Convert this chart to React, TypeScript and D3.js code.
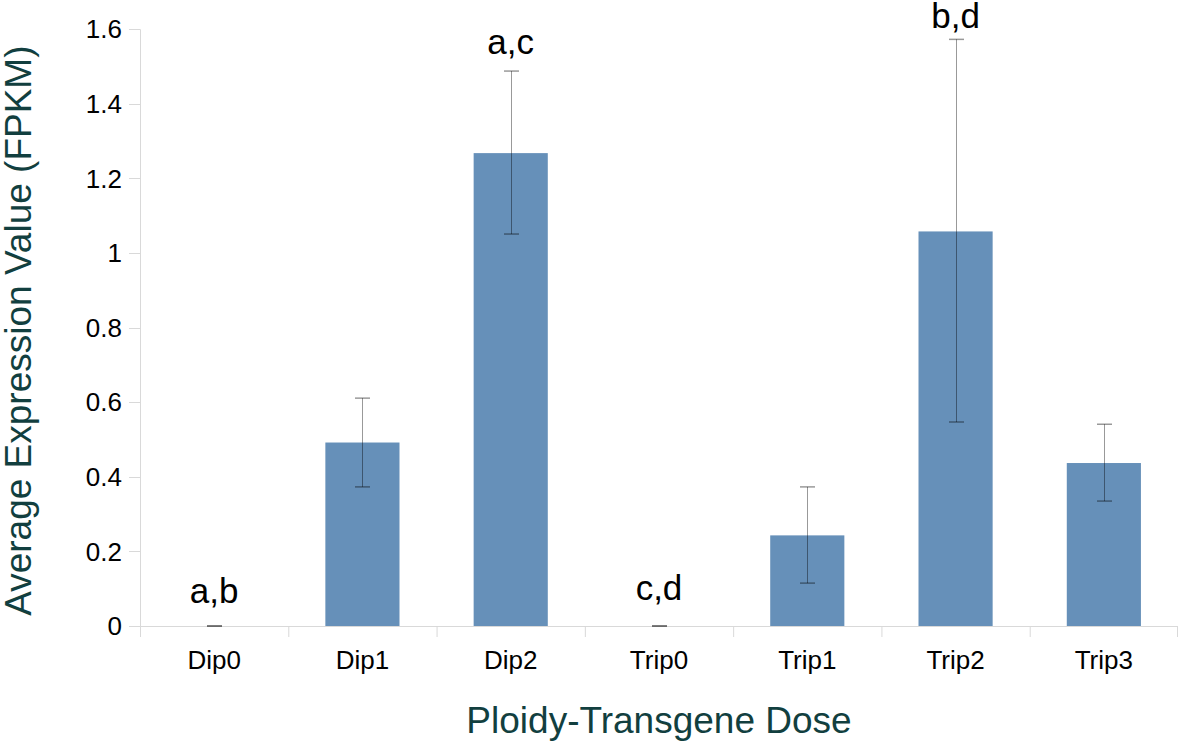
import React from "react";
import * as d3 from "d3";

const categories = ["Dip0", "Dip1", "Dip2", "Trip0", "Trip1", "Trip2", "Trip3"];
const means = [0, 0.492, 1.268, 0, 0.243, 1.058, 0.437];
const errUpper = [0, 0.611, 1.488, 0, 0.373, 1.573, 0.541];
const errLower = [0, 0.373, 1.051, 0, 0.115, 0.547, 0.335];
const sigLabels = ["a,b", "", "a,c", "c,d", "", "b,d", ""];
const sigLabelValues = [0.062, 0, 1.535, 0.07, 0, 1.603, 0];
const yTicks = [0, 0.2, 0.4, 0.6, 0.8, 1, 1.2, 1.4, 1.6];

const W = 1181;
const H = 745;
const left = 140;
const right = 1178;
const top = 29.3;
const bottom = 626;

export default function App() {
  const x = d3.scaleBand<string>().domain(categories).range([left, right]).paddingInner(0).paddingOuter(0);
  const y = d3.scaleLinear().domain([0, 1.6]).range([bottom, top]);
  const bw = x.bandwidth();
  const barW = bw * 0.5;
  const font = "'Liberation Sans', Arial, sans-serif";
  const titleColor = "#123f3f";
  const axisColor = "#d9d9d9";
  const capHalf = 7.5;

  return (
    <svg width={W} height={H} style={{ position: "absolute", left: 0, top: 0, display: "block" }} fontFamily={font}>
      <rect width={W} height={H} fill="#fff" />
      {/* y axis */}
      <line x1={left + 0.5} x2={left + 0.5} y1={y(1.6)} y2={bottom} stroke={axisColor} strokeWidth={1} />
      {yTicks.map((t) => (
        <g key={t}>
          <line x1={left - 11} x2={left} y1={Math.round(y(t)) + 0.5} y2={Math.round(y(t)) + 0.5} stroke={axisColor} />
          <text x={left - 18} y={y(t)} dy="0.35em" textAnchor="end" fontSize={26} fill="#000">
            {d3.format("~g")(t)}
          </text>
        </g>
      ))}
      {/* x axis */}
      <line x1={left} x2={right} y1={bottom + 0.5} y2={bottom + 0.5} stroke={axisColor} />
      {categories.map((c) => (
        <line key={"t" + c} x1={x(c)! + 0.5} x2={x(c)! + 0.5} y1={bottom} y2={bottom + 11} stroke={axisColor} />
      ))}
      <line x1={right - 0.5} x2={right - 0.5} y1={bottom} y2={bottom + 11} stroke={axisColor} />
      {categories.map((c) => (
        <text key={"l" + c} x={x(c)! + bw / 2} y={669} textAnchor="middle" fontSize={26} fill="#000">
          {c}
        </text>
      ))}
      {/* bars */}
      {categories.map((c, i) => (
        <rect
          key={"b" + c}
          x={x(c)! + (bw - barW) / 2}
          y={y(means[i])}
          width={barW}
          height={bottom - y(means[i])}
          fill="#6690b9"
        />
      ))}
      {/* error bars */}
      {categories.map((c, i) => {
        const cx = Math.round(x(c)! + bw / 2) + 0.5;
        return (
          <g key={"e" + c} stroke="#000" strokeOpacity={0.4} strokeWidth={1}>
            <line x1={cx} x2={cx} y1={y(errUpper[i])} y2={y(errLower[i])} />
            <line x1={cx - capHalf} x2={cx + capHalf} y1={y(errUpper[i])} y2={y(errUpper[i])} strokeWidth={1.5} />
            <line x1={cx - capHalf} x2={cx + capHalf} y1={y(errLower[i])} y2={y(errLower[i])} strokeWidth={1.5} />
          </g>
        );
      })}
      {/* significance letters */}
      {categories.map((c, i) =>
        sigLabels[i] ? (
          <text key={"s" + c} x={x(c)! + bw / 2} y={y(sigLabelValues[i])} textAnchor="middle" fontSize={35} fill="#000">
            {sigLabels[i]}
          </text>
        ) : null
      )}
      {/* axis titles */}
      <text
        transform={`translate(31, ${(top + bottom) / 2 + 3}) rotate(-90)`}
        textAnchor="middle"
        fontSize={37}
        fill={titleColor}
      >
        Average Expression Value (FPKM)
      </text>
      <text x={(left + right) / 2} y={733} textAnchor="middle" fontSize={37} fill={titleColor}>
        Ploidy-Transgene Dose
      </text>
    </svg>
  );
}
